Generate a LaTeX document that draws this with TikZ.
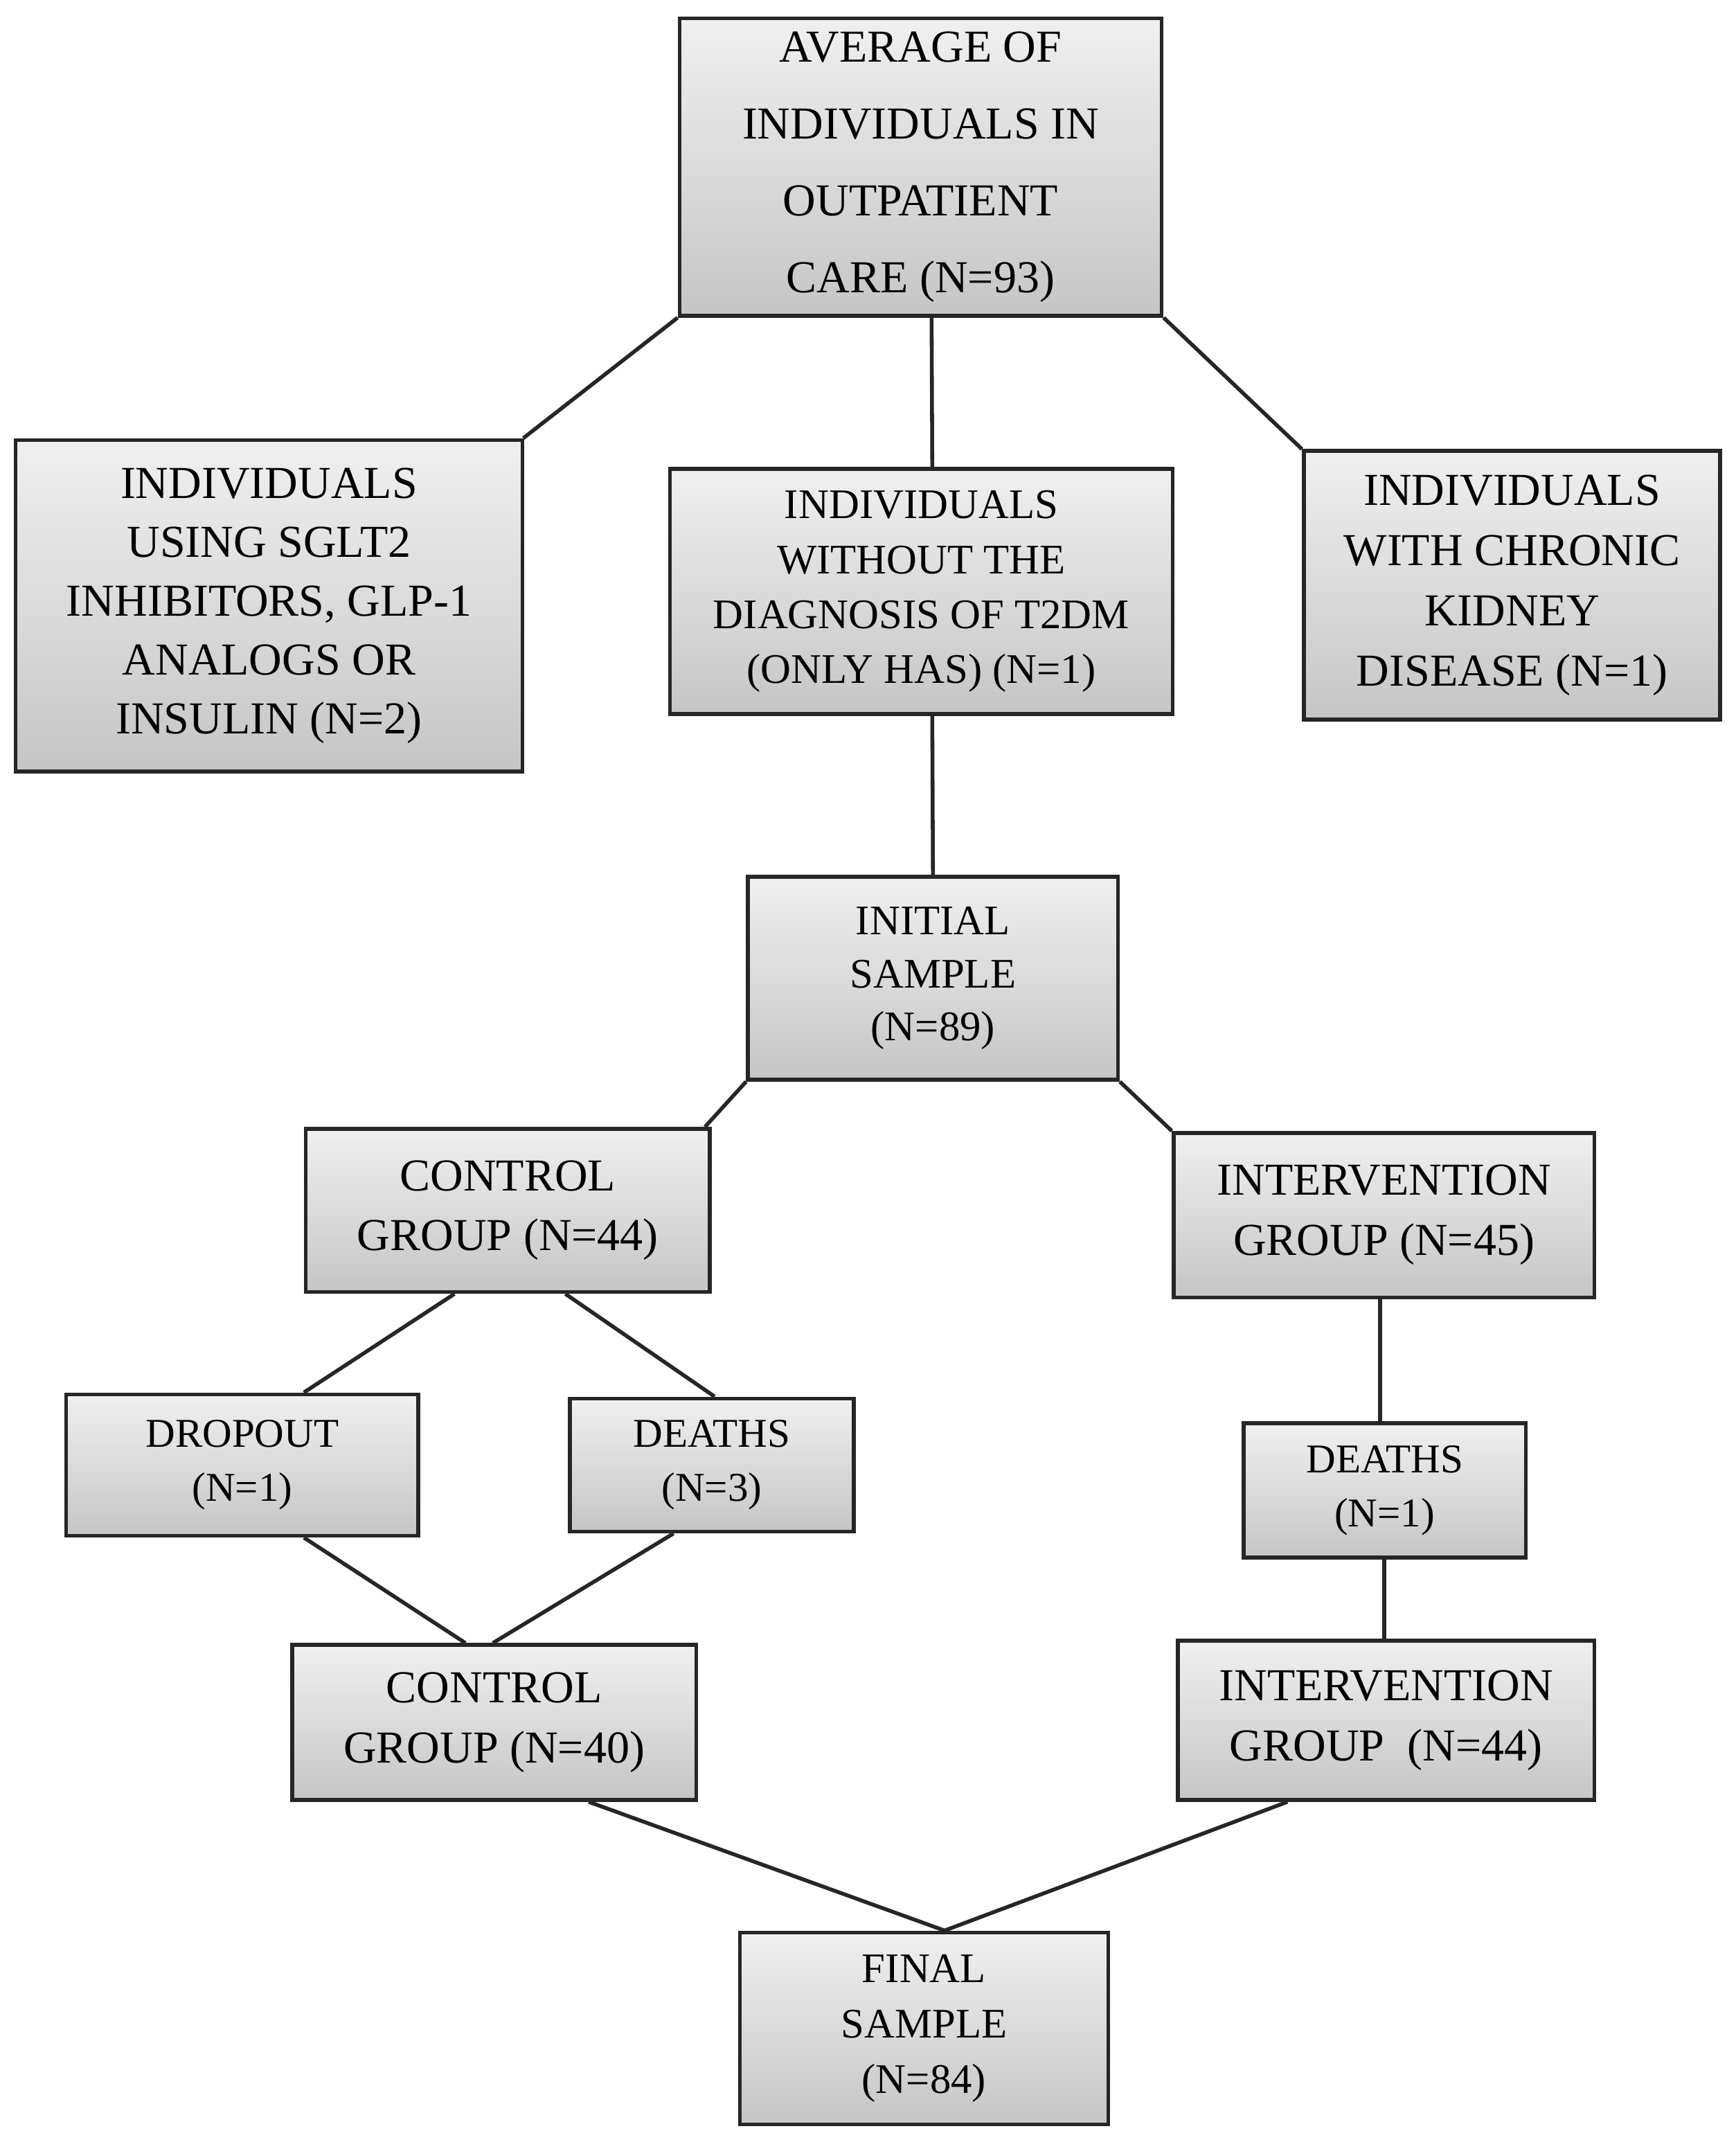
\documentclass[tikz,border=0pt]{standalone}
\usepackage{fontspec}
\setmainfont{Liberation Serif}
\usetikzlibrary{calc}
\begin{document}
\begin{tikzpicture}[x=0.02cm,y=-0.02cm,
  box/.style={draw=black!85,line width=1.6pt,top color=gray!12,bottom color=gray!45,
    align=center,inner sep=0pt,font=\fontsize{19}{25}\selectfont},
  sm/.style={font=\fontsize{17.5}{22.5}\selectfont},
  ln/.style={line width=1.6pt,black!85}]
\useasboundingbox (0,0) rectangle (1268,1563);
\newcommand\bx[6]{\node[box,#6,minimum width=#4*0.02cm-1.6pt,minimum height=#5*0.02cm-1.6pt] (#1) at (#2,#3) {};}
\bx{top}{672.5}{122}{355}{220}{}
\node[font=\fontsize{19}{22}\selectfont,align=center] at (top) {AVERAGE OF\\[0.35cm]INDIVIDUALS IN\\[0.35cm]OUTPATIENT\\[0.35cm]CARE (N=93)};
\bx{lft}{196.5}{442.5}{373}{245}{}
\node[align=center,font=\fontsize{19}{24.5}\selectfont] at (lft) {INDIVIDUALS\\USING SGLT2\\INHIBITORS, GLP-1\\ANALOGS OR\\INSULIN (N=2)};
\bx{mid}{673}{432}{370}{182}{}
\node[align=center,font=\fontsize{17.5}{22.8}\selectfont] at (mid) {INDIVIDUALS\\WITHOUT THE\\DIAGNOSIS OF T2DM\\(ONLY HAS) (N=1)};
\bx{rgt}{1104.5}{427.5}{307}{199}{}
\node[align=center,font=\fontsize{19}{25}\selectfont] at (rgt) {INDIVIDUALS\\WITH CHRONIC\\KIDNEY\\DISEASE (N=1)};
\bx{ini}{681.5}{714.5}{273}{151}{}
\node[align=center,font=\fontsize{17.5}{22}\selectfont] at (ini) {INITIAL\\SAMPLE\\(N=89)};
\bx{c44}{371}{884}{298}{122}{}
\node[align=center,font=\fontsize{19}{25}\selectfont] at (c44) {CONTROL\\GROUP (N=44)};
\bx{i45}{1011}{887.5}{310}{123}{}
\node[align=center,font=\fontsize{19}{25}\selectfont] at (i45) {INTERVENTION\\GROUP (N=45)};
\bx{drp}{177}{1070}{260}{106}{}
\node[align=center,font=\fontsize{17}{22.5}\selectfont] at (drp) {DROPOUT\\(N=1)};
\bx{d3}{520}{1070}{210}{100}{}
\node[align=center,font=\fontsize{17}{22.5}\selectfont] at (d3) {DEATHS\\(N=3)};
\bx{d1}{1011.5}{1088.5}{209}{101}{}
\node[align=center,font=\fontsize{17}{22.5}\selectfont] at (d1) {DEATHS\\(N=1)};
\bx{c40}{361}{1258}{298}{116}{}
\node[align=center,font=\fontsize{19}{25}\selectfont] at (c40) {CONTROL\\GROUP (N=40)};
\bx{i44}{1012.5}{1256.5}{307}{119}{}
\node[align=center,font=\fontsize{19}{25}\selectfont] at (i44) {INTERVENTION\\GROUP\ \ (N=44)};
\bx{fin}{675}{1481.5}{272}{143}{}
\node[align=center,font=\fontsize{17.5}{23}\selectfont] at (fin) {FINAL\\SAMPLE\\(N=84)};
% connectors
\draw[ln] (top.south west) -- ([xshift=-0.4pt]lft.north east);
\draw[ln] ([xshift=8*0.02cm]top.south) -- ([xshift=8*0.02cm]mid.north);
\draw[ln] (top.south east) -- (rgt.north west);
\draw[ln] ([xshift=8*0.02cm]mid.south) -- ([xshift=0]ini.north);
\draw[ln] (ini.south west) -- ([xshift=-5*0.02cm]c44.north east);
\draw[ln] (ini.south east) -- (i45.north west);
\draw[ln] ([xshift=-39*0.02cm]c44.south) -- ([xshift=45*0.02cm]drp.north);
\draw[ln] ([xshift=42*0.02cm]c44.south) -- ([xshift=2*0.02cm]d3.north);
\draw[ln] ([xshift=-3*0.02cm]i45.south) -- ([xshift=-3.5*0.02cm]d1.north);
\draw[ln] ([xshift=-0.5*0.02cm]d1.south) -- ([xshift=-1.5*0.02cm]i44.north);
\draw[ln] ([xshift=45*0.02cm]drp.south) -- ([xshift=-21*0.02cm]c40.north);
\draw[ln] ([xshift=-28*0.02cm]d3.south) -- ([xshift=-1*0.02cm]c40.north);
\draw[ln] ([xshift=69*0.02cm]c40.south) -- ([xshift=15*0.02cm]fin.north);
\draw[ln] ([xshift=-72*0.02cm]i44.south) -- ([xshift=15*0.02cm]fin.north);
\end{tikzpicture}
\end{document}
